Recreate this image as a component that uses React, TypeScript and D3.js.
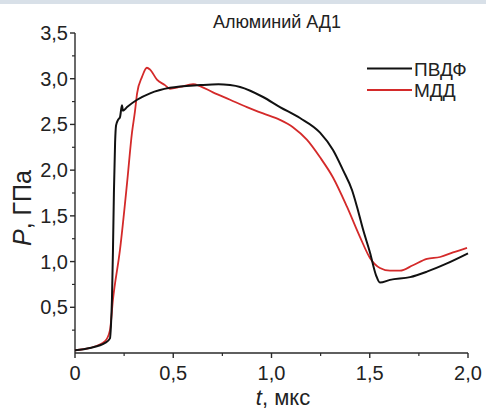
import React from "react";
import * as d3 from "d3";

const pvdfT = [0, 0.076, 0.153, 0.178, 0.183, 0.188, 0.193, 0.198, 0.204, 0.209, 0.219, 0.229, 0.239, 0.244, 0.265, 0.316, 0.382, 0.483, 0.636, 0.73, 0.789, 0.84, 0.957, 1.043, 1.145, 1.247, 1.313, 1.364, 1.41, 1.435, 1.466, 1.501, 1.532, 1.552, 1.603, 1.705, 1.791, 1.893, 2.0];
const pvdfP = [0.03, 0.055, 0.11, 0.16, 0.3, 0.58, 1.1, 1.75, 2.3, 2.49, 2.55, 2.58, 2.71, 2.65, 2.69, 2.77, 2.84, 2.9, 2.93, 2.94, 2.93, 2.91, 2.8, 2.69, 2.57, 2.41, 2.22, 2.0, 1.78, 1.6, 1.35, 1.1, 0.85, 0.77, 0.8, 0.83, 0.89, 0.98, 1.09];

const mddT = [0, 0.076, 0.153, 0.178, 0.193, 0.229, 0.265, 0.29, 0.305, 0.316, 0.341, 0.366, 0.382, 0.417, 0.458, 0.483, 0.534, 0.601, 0.636, 0.702, 0.789, 0.875, 0.957, 1.043, 1.109, 1.181, 1.247, 1.313, 1.384, 1.45, 1.501, 1.552, 1.603, 1.654, 1.72, 1.791, 1.858, 1.924, 1.995];
const mddP = [0.03, 0.055, 0.13, 0.25, 0.58, 1.13, 1.86, 2.41, 2.64, 2.84, 3.02, 3.12, 3.1, 2.99, 2.93, 2.89, 2.91, 2.94, 2.92, 2.85, 2.77, 2.69, 2.62, 2.55, 2.47, 2.33, 2.14, 1.92, 1.6, 1.27, 1.04, 0.93, 0.9, 0.9, 0.96, 1.03, 1.05, 1.1, 1.15];

const xTicks = [0, 0.5, 1.0, 1.5, 2.0];
const xTickLabels = ["0", "0,5", "1,0", "1,5", "2,0"];
const yTicks = [0.5, 1.0, 1.5, 2.0, 2.5, 3.0, 3.5];
const yTickLabels = ["0,5", "1,0", "1,5", "2,0", "2,5", "3,0", "3,5"];
const xMinor = [0.25, 0.75, 1.25, 1.75];
const yMinor = [0.25, 0.75, 1.25, 1.75, 2.25, 2.75, 3.25];

const FONT = "'Liberation Sans', Arial, sans-serif";

export default function App() {
  const W = 486, H = 409;
  const x = d3.scaleLinear().domain([0, 2]).range([75, 468]);
  const y = d3.scaleLinear().domain([0, 3.5]).range([353, 33]);
  const line = d3
    .line<[number, number]>()
    .x((d) => x(d[0]))
    .y((d) => y(d[1]))
    .curve(d3.curveMonotoneX);
  const black = line(pvdfT.map((t, i) => [t, pvdfP[i]] as [number, number])) || "";
  const red = line(mddT.map((t, i) => [t, mddP[i]] as [number, number])) || "";
  const axisColor = "#2a2a2a";
  const textColor = "#222";

  return (
    <svg width={W} height={H} style={{ position: "absolute", left: 0, top: 0, background: "#fff" }} fontFamily={FONT}>
      <rect x={0} y={0} width={W} height={H} fill="#fff" />
      <rect x={0} y={0} width={W} height={4} fill="#d8e0e8" />
      {/* axes */}
      <line x1={x(0)} x2={x(0)} y1={y(0)} y2={y(3.5)} stroke={axisColor} strokeWidth={1.4} />
      <line x1={x(0)} x2={x(2)} y1={y(0)} y2={y(0)} stroke={axisColor} strokeWidth={1.4} />
      {xTicks.map((t, i) => (
        <g key={"xt" + i}>
          <line x1={x(t)} x2={x(t)} y1={y(0)} y2={y(0) + 5} stroke={axisColor} strokeWidth={1.4} />
          <text x={x(t)} y={380} textAnchor="middle" fontSize={20} fill={textColor}>
            {xTickLabels[i]}
          </text>
        </g>
      ))}
      {xMinor.map((t, i) => (
        <line key={"xm" + i} x1={x(t)} x2={x(t)} y1={y(0)} y2={y(0) + 3} stroke={axisColor} strokeWidth={1.2} />
      ))}
      {yTicks.map((v, i) => (
        <g key={"yt" + i}>
          <line x1={x(0) - 5} x2={x(0)} y1={y(v)} y2={y(v)} stroke={axisColor} strokeWidth={1.4} />
          <text x={x(0) - 7} y={y(v) + 7} textAnchor="end" fontSize={20} fill={textColor}>
            {yTickLabels[i]}
          </text>
        </g>
      ))}
      {yMinor.map((v, i) => (
        <line key={"ym" + i} x1={x(0) - 3} x2={x(0)} y1={y(v)} y2={y(v)} stroke={axisColor} strokeWidth={1.2} />
      ))}
      {/* axis titles */}
      <text x={283} y={405} textAnchor="middle" fontSize={22} fill={textColor}>
        <tspan fontStyle="italic">t</tspan>, мкс
      </text>
      <text transform="translate(31,208) rotate(-90)" textAnchor="middle" fontSize={25} fill={textColor}>
        <tspan fontStyle="italic">P</tspan>, ГПа
      </text>
      <text x={277} y={28} textAnchor="middle" fontSize={18} fill={textColor}>
        Алюминий АД1
      </text>
      {/* curves */}
      <path d={red} fill="none" stroke="#d42a2a" strokeWidth={1.8} strokeLinejoin="round" />
      <path d={black} fill="none" stroke="#111" strokeWidth={2} strokeLinejoin="round" />
      {/* legend */}
      <line x1={367} x2={412} y1={68.5} y2={68.5} stroke="#111" strokeWidth={2} />
      <text x={414} y={75.5} fontSize={19} fill={textColor}>ПВДФ</text>
      <line x1={367} x2={412} y1={90} y2={90} stroke="#d42a2a" strokeWidth={2} />
      <text x={414} y={97} fontSize={19} fill={textColor}>МДД</text>
    </svg>
  );
}
